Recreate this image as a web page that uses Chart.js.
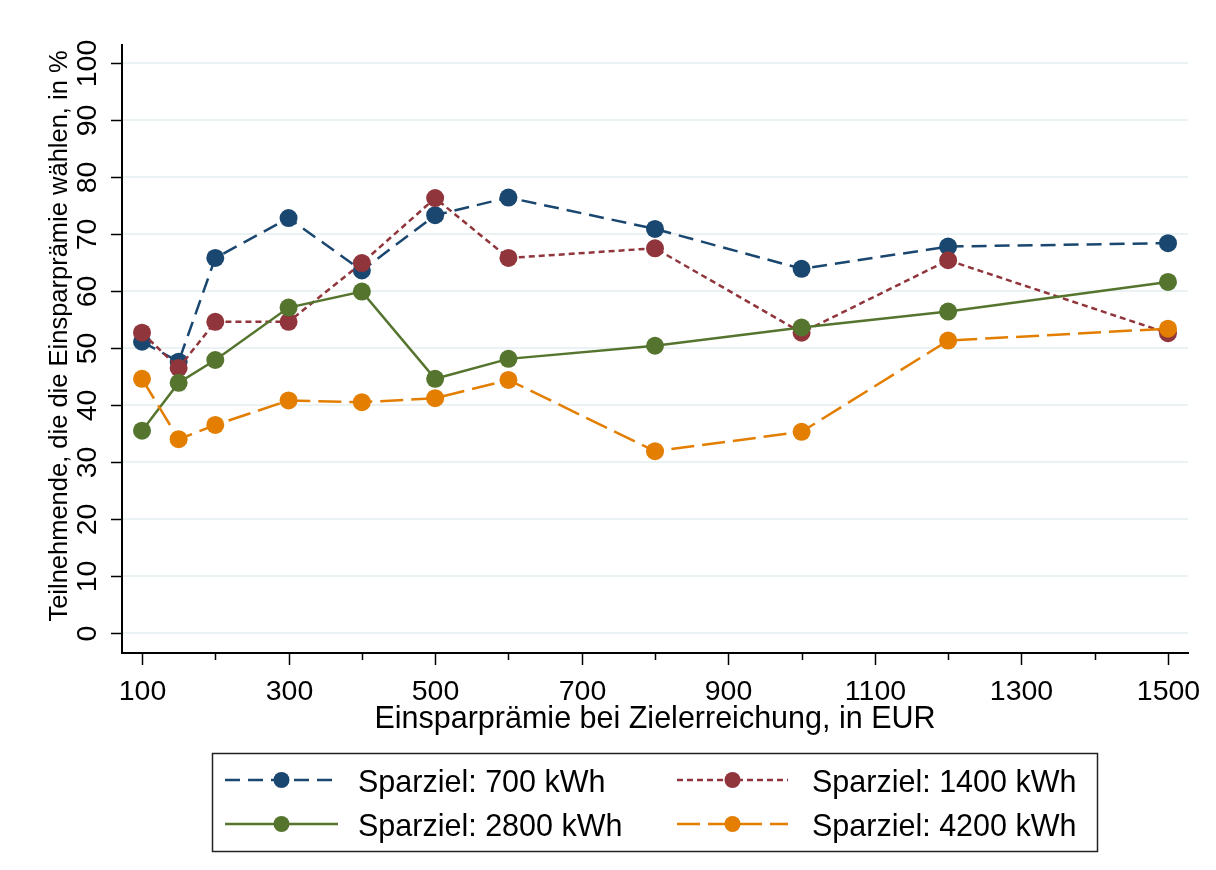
<!DOCTYPE html>
<html>
<head>
<meta charset="utf-8">
<script src="https://cdn.jsdelivr.net/npm/chart.js@4/dist/chart.umd.min.js"></script>
<style>
html,body{margin:0;padding:0;background:#fff;}
#wrap{width:1216px;height:870px;position:relative;}
</style>
</head>
<body>
<div id="wrap"><canvas id="c" width="1216" height="870"></canvas></div>
<script>
// ---- data ----
const praemie = [100, 150, 200, 300, 400, 500, 600, 800, 1000, 1200, 1500];
const sparziel700  = [51.1, 47.6, 65.8, 72.8, 63.6, 73.3, 76.4, 70.9, 63.9, 67.8, 68.4];
const sparziel1400 = [52.7, 46.5, 54.6, 54.6, 64.9, 76.3, 65.8, 67.5, 52.7, 65.4, 52.6];
const sparziel2800 = [35.5, 43.9, 47.9, 57.1, 59.9, 44.6, 48.1, 50.4, 53.6, 56.4, 61.6];
const sparziel4200 = [44.6, 34.0, 36.5, 40.8, 40.5, 41.2, 44.4, 31.9, 35.3, 51.3, 53.4];
const seriesLabels = ['Sparziel: 700 kWh', 'Sparziel: 1400 kWh', 'Sparziel: 2800 kWh', 'Sparziel: 4200 kWh'];
const xTickValues = [100, 200, 300, 400, 500, 600, 700, 800, 900, 1000, 1100, 1200, 1300, 1400, 1500];
const xTickLabels = ['100', '', '300', '', '500', '', '700', '', '900', '', '1100', '', '1300', '', '1500'];
const yTickValues = [0, 10, 20, 30, 40, 50, 60, 70, 80, 90, 100];
const yTickLabels = ['0', '10', '20', '30', '40', '50', '60', '70', '80', '90', '100'];
const xTitle = 'Einsparprämie bei Zielerreichung, in EUR';
const yTitle = 'Teilnehmende, die die Einsparprämie wählen, in %';

// ---- styles ----
const FONT = '"Liberation Sans", Arial, sans-serif';
const colors = ['#1a476f', '#90353b', '#55752f', '#e37e00'];
const dashes = [[15, 8], [6, 4], [], [23, 8]];
const seriesValues = [sparziel700, sparziel1400, sparziel2800, sparziel4200];

const datasets = seriesValues.map((vals, i) => ({
  label: seriesLabels[i],
  data: praemie.map((x, k) => ({ x: x, y: vals[k] })),
  borderColor: colors[i],
  backgroundColor: colors[i],
  pointBackgroundColor: colors[i],
  pointBorderWidth: 0,
  pointRadius: 9,
  borderWidth: 2.5,
  borderDash: dashes[i],
  tension: 0,
  fill: false,
  clip: false,
  order: 4 - i
}));

const decor = {
  id: 'decor',
  afterDraw(chart) {
    const ctx = chart.ctx;
    const xs = chart.scales.x, ys = chart.scales.y;
    const area = chart.chartArea;
    ctx.save();
    ctx.fillStyle = '#000';
    ctx.strokeStyle = '#000';
    ctx.lineWidth = 1.5;
    // x ticks
    xTickValues.forEach((v, i) => {
      const px = Math.round(xs.getPixelForValue(v)) + 0.5;
      const major = xTickLabels[i] !== '';
      ctx.beginPath();
      ctx.moveTo(px, area.bottom);
      ctx.lineTo(px, area.bottom + (major ? 12 : 7));
      ctx.stroke();
      if (major) {
        ctx.font = '28.5px ' + FONT;
        ctx.textAlign = 'center';
        ctx.textBaseline = 'alphabetic';
        ctx.fillText(xTickLabels[i], px, 700);
      }
    });
    // y ticks
    yTickValues.forEach((v, i) => {
      const py = Math.round(ys.getPixelForValue(v)) + 0.5;
      ctx.beginPath();
      ctx.moveTo(area.left, py);
      ctx.lineTo(area.left - 11, py);
      ctx.stroke();
      ctx.save();
      ctx.translate(96, py);
      ctx.rotate(-Math.PI / 2);
      ctx.font = '28.5px ' + FONT;
      ctx.textAlign = 'center';
      ctx.textBaseline = 'alphabetic';
      ctx.fillText(yTickLabels[i], 0, 0);
      ctx.restore();
    });
    // axis titles
    ctx.font = '30.5px ' + FONT;
    ctx.textAlign = 'center';
    ctx.textBaseline = 'alphabetic';
    ctx.fillText(xTitle, (area.left + area.right) / 2, 728);
    ctx.save();
    ctx.translate(67, 336);
    ctx.rotate(-Math.PI / 2);
    ctx.font = '25.5px ' + FONT;
    ctx.fillText(yTitle, 0, 0);
    ctx.restore();

    // legend
    ctx.lineWidth = 1.5;
    ctx.strokeStyle = '#222';
    ctx.strokeRect(212.5, 753.5, 885, 98);
    const cols = [{ x1: 225, x2: 338, tx: 358 }, { x1: 677, x2: 788, tx: 812 }];
    const rows = [780, 824];
    chart.data.datasets.forEach((ds, i) => {
      const c = cols[i % 2], ry = rows[Math.floor(i / 2)];
      ctx.save();
      ctx.strokeStyle = ds.borderColor;
      ctx.lineWidth = 2.5;
      ctx.setLineDash(ds.borderDash || []);
      ctx.beginPath();
      ctx.moveTo(c.x1, ry);
      ctx.lineTo(c.x2, ry);
      ctx.stroke();
      ctx.setLineDash([]);
      ctx.fillStyle = ds.backgroundColor;
      ctx.beginPath();
      ctx.arc((c.x1 + c.x2) / 2, ry, 8, 0, Math.PI * 2);
      ctx.fill();
      ctx.restore();
      ctx.fillStyle = '#000';
      ctx.font = '30.5px ' + FONT;
      ctx.textAlign = 'left';
      ctx.textBaseline = 'alphabetic';
      ctx.fillText(ds.label, c.tx, ry + 12);
    });
    ctx.restore();
  }
};

new Chart(document.getElementById('c'), {
  type: 'line',
  data: { datasets: datasets },
  options: {
    responsive: false,
    animation: false,
    devicePixelRatio: 1,
    layout: { padding: { top: 45, right: 28, left: 0, bottom: 0 } },
    plugins: { legend: { display: false }, tooltip: { enabled: false } },
    scales: {
      x: {
        type: 'linear',
        min: 72.7,
        max: 1527.3,
        grid: { display: false, drawTicks: false },
        border: { display: true, color: '#000', width: 2 },
        ticks: { display: false },
        afterBuildTicks: s => { s.ticks = xTickValues.map(v => ({ value: v })); },
        afterFit: s => { s.height = 217; }
      },
      y: {
        type: 'linear',
        min: -3.5,
        max: 103.16,
        grid: { display: true, color: '#eaf2f3', lineWidth: 2, drawTicks: false },
        border: { display: true, color: '#000', width: 2 },
        ticks: { display: false },
        afterBuildTicks: s => { s.ticks = yTickValues.map(v => ({ value: v })); },
        afterFit: s => { s.width = 122; }
      }
    }
  },
  plugins: [decor]
});
</script>
</body>
</html>
